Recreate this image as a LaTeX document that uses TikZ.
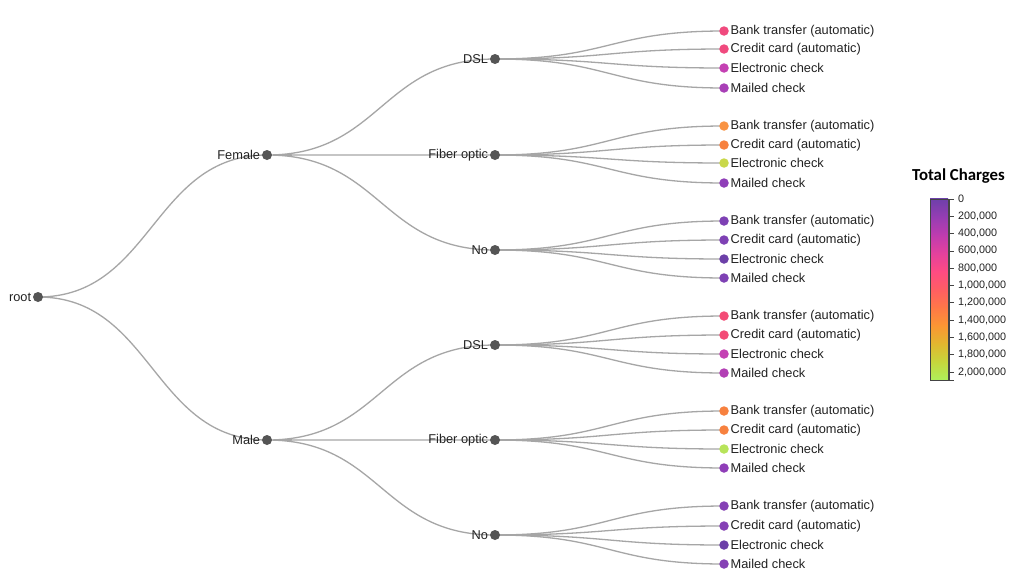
\documentclass[tikz,border=0pt]{standalone}
\usepackage{fontspec}
\setmainfont{Liberation Sans}
\newfontfamily\titlefont{Carlito}
\usepackage{xcolor}
\usetikzlibrary{calc, backgrounds}

\definecolor{linkgray}{HTML}{A6A6A6}
\definecolor{dotgray}{HTML}{555555}
\definecolor{labelgray}{HTML}{222222}
\definecolor{axisgray}{HTML}{444444}
% leaf colours
\definecolor{cPink}{HTML}{F04A7E}
\definecolor{cPinkB}{HTML}{F34C76}
\definecolor{cMag}{HTML}{C441B3}
\definecolor{cPlum}{HTML}{A83FB6}
\definecolor{cPlumB}{HTML}{B33FB5}
\definecolor{cOrange}{HTML}{F99343}
\definecolor{cOrangeR}{HTML}{F7813F}
\definecolor{cLime}{HTML}{C9D84A}
\definecolor{cLimeB}{HTML}{B7E45A}
\definecolor{cViolet}{HTML}{8F3EB8}
\definecolor{cPurple}{HTML}{7E41B4}
\definecolor{cPurpleB}{HTML}{8541B5}
\definecolor{cIndigo}{HTML}{6C40A8}
% colour scale
\definecolor{w0}{HTML}{6E40AA}
\definecolor{w1}{HTML}{963DB3}
\definecolor{w2}{HTML}{BF3CAF}
\definecolor{w3}{HTML}{E4419D}
\definecolor{w4}{HTML}{FE4B83}
\definecolor{w5}{HTML}{FF5E63}
\definecolor{w6}{HTML}{FF7847}
\definecolor{w7}{HTML}{FB9633}
\definecolor{w8}{HTML}{E2B72F}
\definecolor{w9}{HTML}{C6D63C}
\definecolor{w10}{HTML}{AFF05B}

\begin{document}
\begin{tikzpicture}[x=1pt, y=-1pt,
    link/.style={draw=linkgray, line width=1.3pt,
                 to path={let \p1=(\tikztostart), \p2=(\tikztotarget) in
                          .. controls ({(\x1+\x2)/2},\y1) and ({(\x1+\x2)/2},\y2) .. (\tikztotarget)}},
    dot/.style={circle, fill=dotgray, inner sep=0pt, minimum size=10pt},
    leaf/.style={circle, fill=#1, inner sep=0pt, minimum size=9.5pt},
    lbl/.style={font=\fontsize{12.8}{14}\selectfont, text=labelgray, inner sep=1.5pt},
    ticklbl/.style={font=\fontsize{10.8}{12}\selectfont, text=labelgray, anchor=west, inner sep=0pt}
]
\useasboundingbox (0,0) rectangle (1024,576);

% Inner nodes
\node[dot, label={[lbl]left:root}]   (root) at (38, 297) {};
\node[dot, label={[lbl]left:Female}] (fem)  at (267,155) {};
\node[dot, label={[lbl]left:Male}]   (male) at (267,440) {};

\node[dot, label={[lbl]left:DSL}]         (fdsl) at (495, 59) {};
\node[dot, label={[lbl]left:Fiber optic}] (ffib) at (495,155) {};
\node[dot, label={[lbl]left:No}]          (fno)  at (495,250) {};
\node[dot, label={[lbl]left:DSL}]         (mdsl) at (495,345) {};
\node[dot, label={[lbl]left:Fiber optic}] (mfib) at (495,440) {};
\node[dot, label={[lbl]left:No}]          (mno)  at (495,535) {};

% Leaves: Female
\node[leaf=cPink,    label={[lbl]right:Bank transfer (automatic)}] (fdsl1) at (724, 31) {};
\node[leaf=cPink,    label={[lbl]right:Credit card (automatic)}]   (fdsl2) at (724, 49) {};
\node[leaf=cMag,     label={[lbl]right:Electronic check}]          (fdsl3) at (724, 68) {};
\node[leaf=cPlum,    label={[lbl]right:Mailed check}]              (fdsl4) at (724, 88) {};

\node[leaf=cOrange,  label={[lbl]right:Bank transfer (automatic)}] (ffib1) at (724,126) {};
\node[leaf=cOrangeR, label={[lbl]right:Credit card (automatic)}]   (ffib2) at (724,145) {};
\node[leaf=cLime,    label={[lbl]right:Electronic check}]          (ffib3) at (724,163) {};
\node[leaf=cViolet,  label={[lbl]right:Mailed check}]              (ffib4) at (724,183) {};

\node[leaf=cPurple,  label={[lbl]right:Bank transfer (automatic)}] (fno1) at (724,221) {};
\node[leaf=cPurple,  label={[lbl]right:Credit card (automatic)}]   (fno2) at (724,240) {};
\node[leaf=cIndigo,  label={[lbl]right:Electronic check}]          (fno3) at (724,259) {};
\node[leaf=cPurple,  label={[lbl]right:Mailed check}]              (fno4) at (724,278) {};

% Leaves: Male
\node[leaf=cPinkB,   label={[lbl]right:Bank transfer (automatic)}] (mdsl1) at (724,316) {};
\node[leaf=cPinkB,   label={[lbl]right:Credit card (automatic)}]   (mdsl2) at (724,335) {};
\node[leaf=cMag,     label={[lbl]right:Electronic check}]          (mdsl3) at (724,354) {};
\node[leaf=cPlumB,   label={[lbl]right:Mailed check}]              (mdsl4) at (724,373) {};

\node[leaf=cOrangeR, label={[lbl]right:Bank transfer (automatic)}] (mfib1) at (724,411) {};
\node[leaf=cOrangeR, label={[lbl]right:Credit card (automatic)}]   (mfib2) at (724,430) {};
\node[leaf=cLimeB,   label={[lbl]right:Electronic check}]          (mfib3) at (724,449) {};
\node[leaf=cViolet,  label={[lbl]right:Mailed check}]              (mfib4) at (724,468) {};

\node[leaf=cPurpleB, label={[lbl]right:Bank transfer (automatic)}] (mno1) at (724,506) {};
\node[leaf=cPurpleB, label={[lbl]right:Credit card (automatic)}]   (mno2) at (724,526) {};
\node[leaf=cIndigo,  label={[lbl]right:Electronic check}]          (mno3) at (724,545) {};
\node[leaf=cPurpleB, label={[lbl]right:Mailed check}]              (mno4) at (724,564) {};

% Links
\begin{scope}[on background layer]
\fill[white] (0,0) rectangle (1024,576);
\draw[link] (root.center) to (fem.center)  (root.center) to (male.center);
\draw[link] (fem.center) to (fdsl.center)  (fem.center) to (ffib.center)  (fem.center) to (fno.center);
\draw[link] (male.center) to (mdsl.center) (male.center) to (mfib.center) (male.center) to (mno.center);
\foreach \br in {fdsl, ffib, fno, mdsl, mfib, mno}
  \foreach \k in {1,...,4}
    \draw[link] (\br.center) to (\br\k.center);
\end{scope}

% Legend
\node[font=\titlefont\bfseries\fontsize{16.8}{18}\selectfont, text=black] (title) at (958.5,176) {Total Charges};
\foreach \i [evaluate=\i as \j using int(\i+1)] in {0,...,9}
  \shade[top color=w\i, bottom color=w\j] (930,{199+\i*18.1-0.2}) rectangle (948,{199+(\i+1)*18.1+0.2});
\draw[axisgray, line width=1pt] (930,199) rectangle (948,380);
\draw[axisgray, line width=0.8pt] (954,199) -- (949,199) -- (949,380) -- (954,380);
\foreach \v [count=\i from 0] in {0, {200,000}, {400,000}, {600,000}, {800,000}, {1,000,000},
                                  {1,200,000}, {1,400,000}, {1,600,000}, {1,800,000}, {2,000,000}} {
  \draw[axisgray, line width=0.8pt] (949,{199+\i*17.3}) -- ++(5,0);
  \node[ticklbl] at (958,{199+\i*17.3}) {\v};
}

\end{tikzpicture}
\end{document}
